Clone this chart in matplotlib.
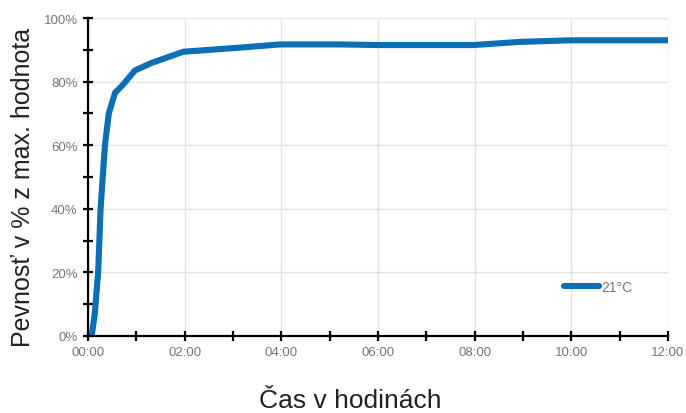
import matplotlib
matplotlib.use("Agg")
import matplotlib.pyplot as plt
from matplotlib.ticker import MultipleLocator, FuncFormatter

hours = [0.0, 0.08, 0.14, 0.21, 0.26, 0.35, 0.43, 0.56, 0.72, 0.97, 1.3, 1.97,
         3.15, 3.97, 5.2, 6.04, 7.97, 8.94, 9.97, 12.0]
strength = [0.0, 0.5, 7.0, 20.0, 40.0, 60.0, 70.0, 76.5, 79.0, 83.5, 85.8, 89.4,
            90.7, 91.7, 91.7, 91.5, 91.5, 92.5, 93.0, 93.0]
series_label = "21°C"
x_tick_labels = ["00:00", "02:00", "04:00", "06:00", "08:00", "10:00", "12:00"]

FAM = ["Liberation Sans", "DejaVu Sans"]
blue = "#0a6fb5"
fig = plt.figure(figsize=(6.86, 4.14), dpi=100)
ax = fig.add_axes([0.1283, 0.186, 0.8455, 0.768])

ax.plot(hours, strength, color=blue, lw=4.4, solid_capstyle="round",
        solid_joinstyle="round", label=series_label)

ax.set_xlim(0, 12)
ax.set_ylim(0, 100)
ax.xaxis.set_minor_locator(MultipleLocator(1))
ax.yaxis.set_major_locator(MultipleLocator(20))
ax.yaxis.set_minor_locator(MultipleLocator(10))
ax.set_xticks(range(0, 13, 2))
ax.set_xticklabels(x_tick_labels)
ax.yaxis.set_major_formatter(FuncFormatter(lambda v, p: f"{int(v)}%"))

ax.grid(True, which="major", color="#e2e2e2", lw=1)
ax.set_axisbelow(True)
for s in ["top", "right"]:
    ax.spines[s].set_visible(False)
for s in ["left", "bottom"]:
    ax.spines[s].set_color("black")
    ax.spines[s].set_linewidth(1.6)

ax.tick_params(which="both", direction="inout", color="black", width=1.6,
               labelsize=9.5, labelcolor="#777777")
ax.tick_params(which="major", length=7, pad=4)
ax.tick_params(which="minor", length=7)

for lab in ax.get_xticklabels() + ax.get_yticklabels():
    lab.set_family(FAM)

fig.text(350 / 686, 1 - 401 / 414, "Čas v hodinách", fontsize=19, color="#222222",
         ha="center", va="center", family=FAM)
fig.text(23 / 686, 1 - 187 / 414, "Pevnosť v % z max. hodnota", fontsize=18,
         color="#222222", ha="center", va="center", rotation=90, family=FAM)

leg = ax.legend(loc="lower right", bbox_to_anchor=(0.96, 0.094), frameon=False,
                handlelength=2.5, handletextpad=0.15,
                prop={"family": FAM, "size": 10})
for t in leg.get_texts():
    t.set_color("#777777")

fig.savefig("out.png", dpi=100)
